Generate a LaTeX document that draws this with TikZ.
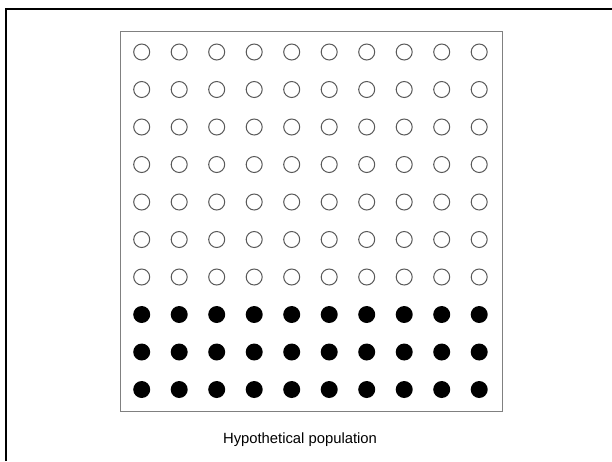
\documentclass[tikz,border=0pt]{standalone}
\usepackage{fontspec}
\setmainfont{Liberation Sans}
\begin{document}
\begin{tikzpicture}[x=1pt,y=-1pt,
  opendot/.style={circle,draw=black!65,line width=1pt,fill=white,minimum size=16pt,inner sep=0pt},
  filldot/.style={circle,fill=black,minimum size=17pt,inner sep=0pt},
  frame/.style={line width=2pt,black}]
\useasboundingbox (0,0) rectangle (612,461);
\fill[white] (0,0) rectangle (612,461);
\draw[frame] (6,461) -- (6,9) -- (612,9);
\node[draw=black!50,line width=1pt,minimum width=382pt,minimum height=380pt,inner sep=0pt] (box) at (311,221) {};
\foreach \r in {0,...,9}{
  \foreach \c in {0,...,9}{
    \ifnum\r<7
      \node[opendot] (d\r\c) at ({141.7+37.5*\c},{52+37.5*\r}) {};
    \else
      \node[filldot] (d\r\c) at ({141.7+37.5*\c},{52+37.5*\r}) {};
    \fi
  }
}
\node[font=\fontsize{14.8}{17}\selectfont,anchor=base] (lbl) at (300,443) {Hypothetical population};
\end{tikzpicture}
\end{document}
